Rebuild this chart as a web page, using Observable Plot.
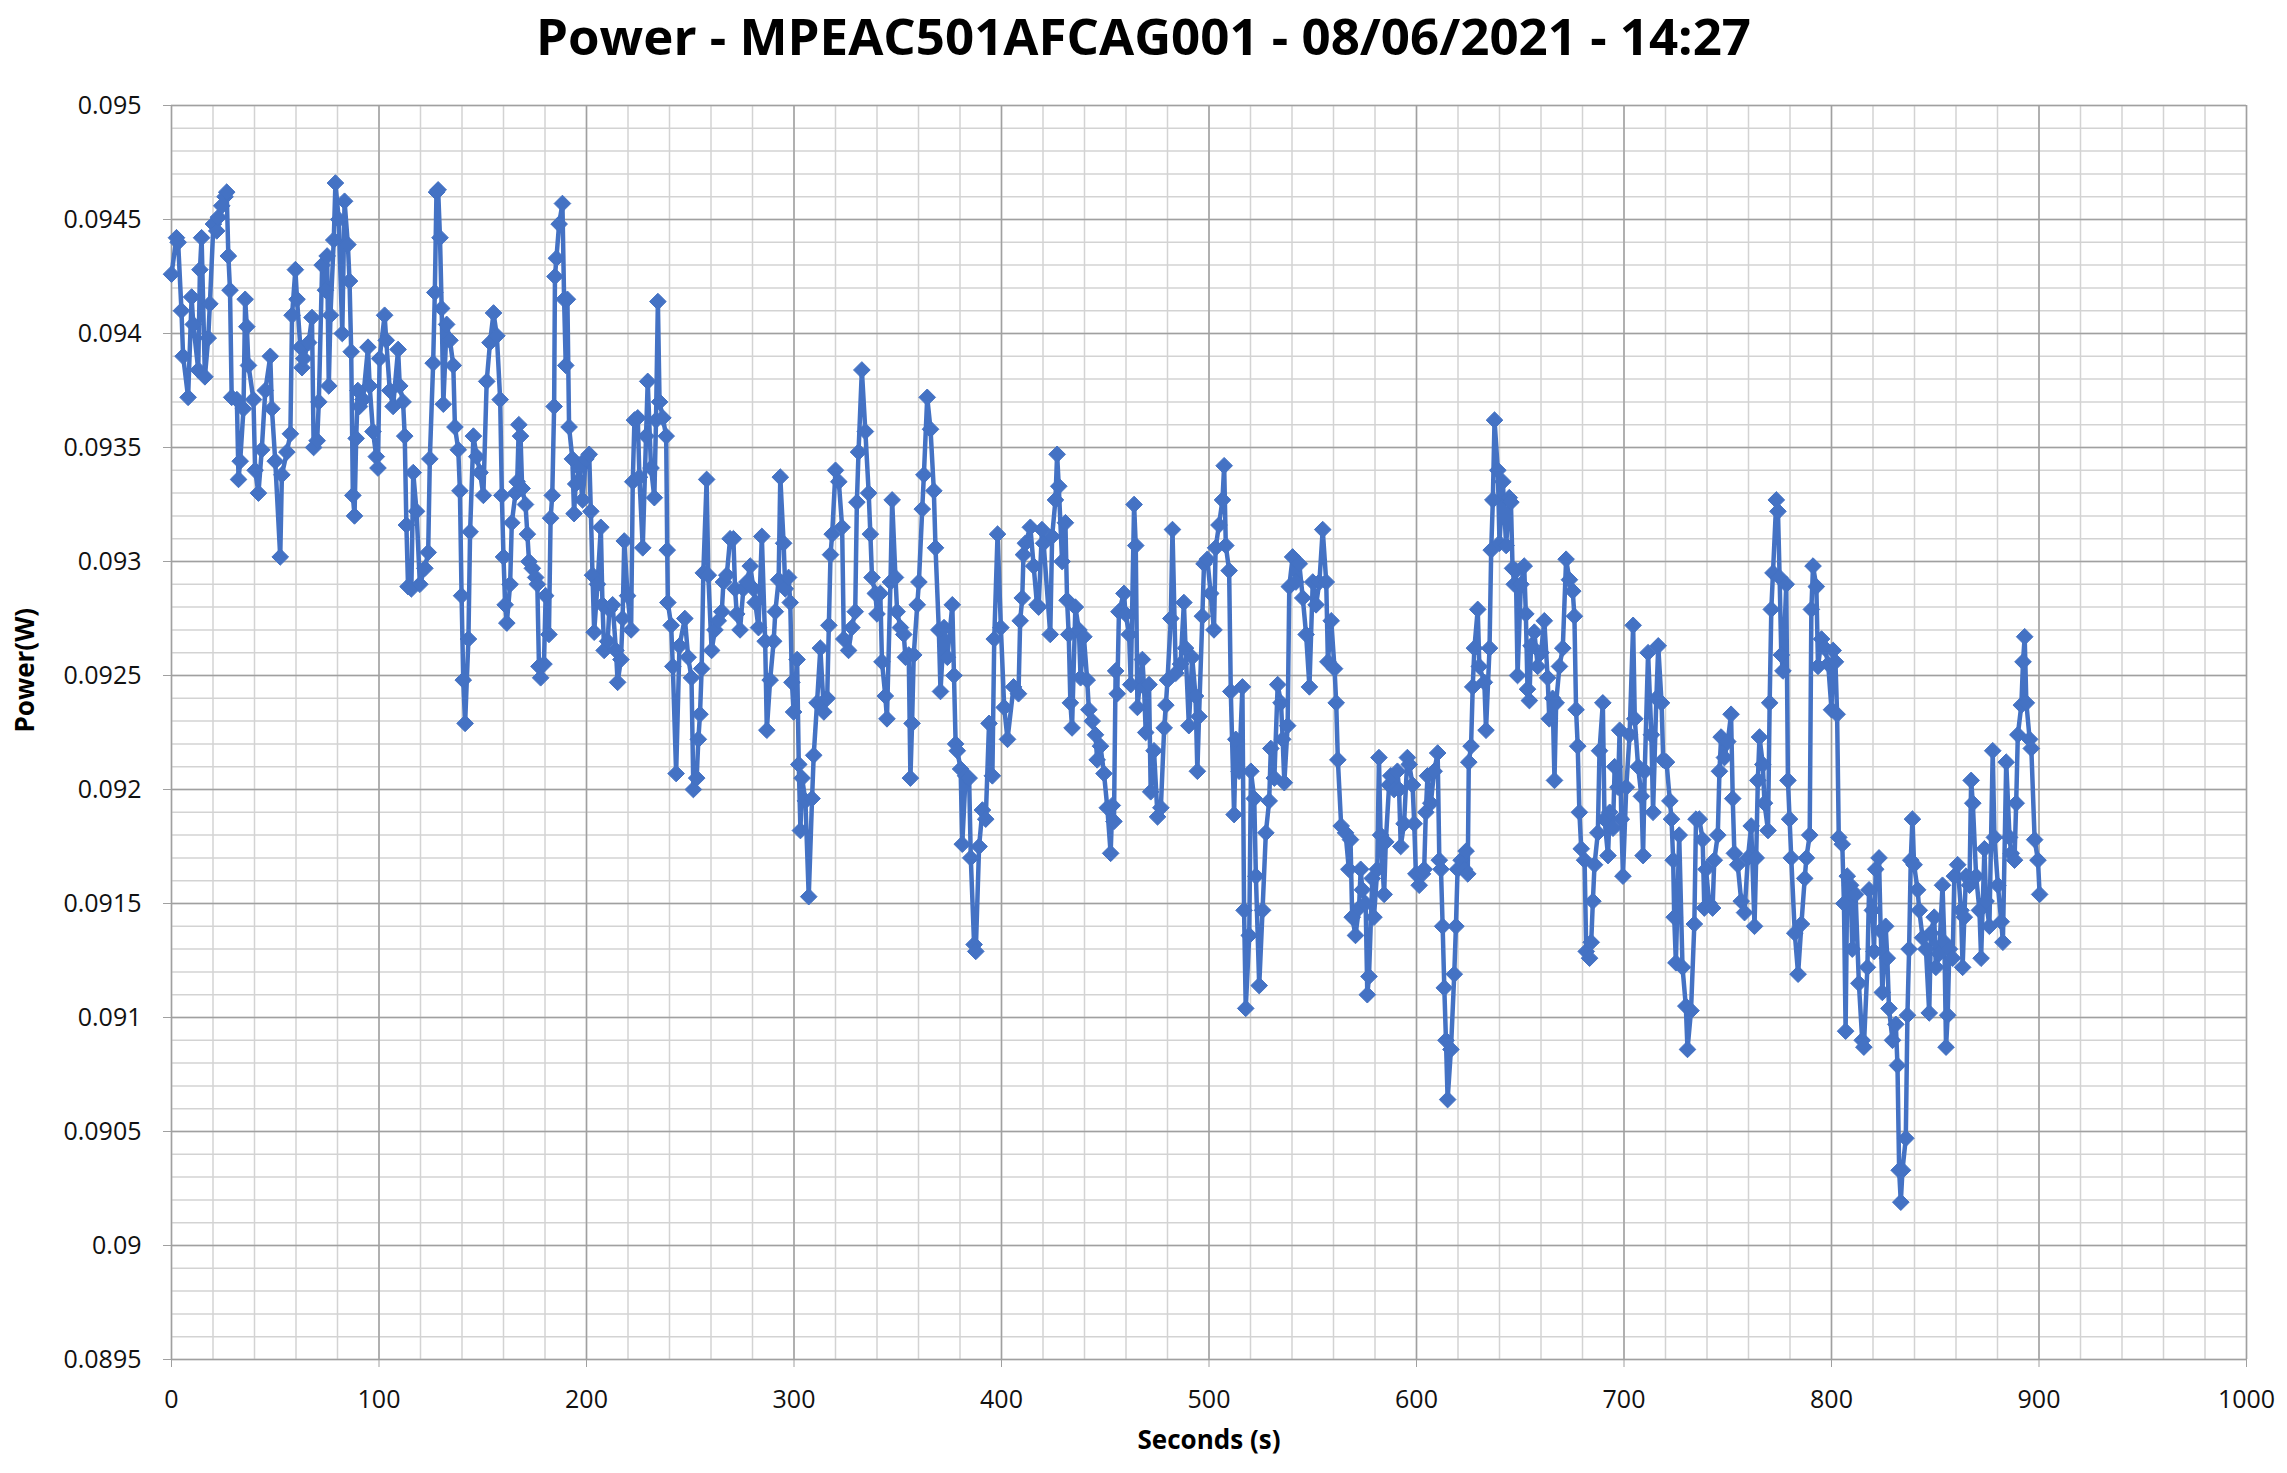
<!DOCTYPE html>
<html><head><meta charset="utf-8">
<script src="https://cdn.jsdelivr.net/npm/d3@7"></script>
<script src="https://cdn.jsdelivr.net/npm/@observablehq/plot@0.6"></script>
<style>
html,body{margin:0;padding:0;background:#fff;}
#wrap{width:2287px;height:1473px;position:relative;overflow:hidden;}
#title{height:62px;line-height:70px;overflow:visible;text-align:center;font-family:"Open Sans",sans-serif;font-weight:700;font-size:51px;color:#000;white-space:nowrap;}
</style></head><body>
<div id="wrap"><div id="title"></div><div id="chart"></div></div>
<script>
const chartTitle = "Power - MPEAC501AFCAG001 - 08/06/2021 - 14:27";
const xLabel = "Seconds (s)";
const yLabel = "Power(W)";
const xTicks = [0, 100, 200, 300, 400, 500, 600, 700, 800, 900, 1000];
const yTicks = [0.0895, 0.09, 0.0905, 0.091, 0.0915, 0.092, 0.0925, 0.093, 0.0935, 0.094, 0.0945, 0.095];

const seconds = [
0,2.4,3.2,4.8,5.6,8,9.7,10.5,12.9,13.7,14.5,16.1,17.7,18.5,20.2,21.8,22.6,24.2,25.8,26.6,27.4,28.2,29,31.5,32.3,33.1,34.7,35.5,36.3,37.1,39.5,40.3,41.9,43.5,45.2,47.6,48.4,50,52.4,53.2,55.6,57.3,58.1,59.7,60.5,62.1,62.9,63.7,66.1,67.7,68.5,70.2,71,72.6,74.2,75,75.8,76.6,78.2,79,80.6,82.3,
83.4,85,85.8,86.6,87.4,88.2,89,89.8,90.6,92.3,94.7,95.5,97.1,98.7,99.5,100.3,102.7,103.5,105.2,106.8,109.2,110,111.6,112.4,113.2,114,115.6,116.5,118.1,119.7,122.1,123.7,124.5,126.1,126.9,127.7,128.5,129.4,130.2,131,132.6,134.2,135.8,136.6,138.2,139,139.8,140.6,141.5,143.1,143.9,145.5,147.1,148.7,150.3,151.9,153.5,155.2,156.8,158.4,159.2,160,160.8,161.6,163.2,164,
165.8,166.6,167.4,168.2,169,170.6,171.5,172.3,173.9,175.5,176.3,177.1,177.9,179.5,180.3,181.9,182.7,183.5,184.4,184.8,185.5,186.8,188.4,189.2,190,190.8,191.6,193.2,194,194.8,196.5,198.1,199.7,201.3,202.1,202.9,203.7,205.3,206.9,207.7,208.5,210.2,211,212.6,214.2,215,216.6,217.4,218.2,219.8,221.5,222.3,223.1,224.7,225.5,227.1,228.7,229.5,231.1,232.7,233.5,234.4,235.2,236.8,238.4,238.9,239.2,240.8,241.6,243.2,244.8,
247.4,249,250.6,251.5,253.1,253.9,254.7,255.5,256.3,257.9,258.7,260.3,261.9,263.5,265.2,266,267.6,269.2,270.8,271.6,272.4,274,275.6,277.3,278.9,280.5,281.3,282.9,284.5,286.1,286.9,288.5,290.2,291,292.6,293.4,295,295.8,297.4,298.2,299,299.8,301.5,302.3,303.1,303.9,305.5,307.1,308.7,309.5,311.1,312.7,314.4,316,316.8,317.6,318.4,320,321.6,323.2,324,
326.3,327.9,329.5,330.3,331.1,332.7,334.4,336,336.8,337.6,339.2,340,341.6,342.4,344,344.8,346.5,347.3,348.9,349.7,351.3,352.9,353.7,355.3,356.1,356.9,357.7,359.4,360.2,361.8,362.6,364.2,365.8,367.4,368.2,369.8,370.6,372.3,373.9,376.3,377.1,377.9,378.7,380.3,381.1,382.7,384.4,385.2,386.8,387.6,389.2,390.8,392.4,394,395.6,396.5,398.1,399.7,401.3,402.9,
405.8,408.2,409,410,410.6,411.5,413.9,415.5,417.1,417.9,419.5,420.3,423.5,424.4,426,426.8,427.6,429.2,430.8,431.6,432.4,433.2,434,435.6,437.3,438.1,439.7,441.3,442.1,443.7,445.3,446.1,447.7,449.4,451,452.6,453.4,454.2,455,455.8,456.6,459,459.8,461.5,462.3,463.9,464.7,465.5,467.9,468.7,469.5,471.1,471.9,473.5,475.2,476.8,478.4,479.2,480,481.6,482.4,484,
486.3,487.9,488.7,490.3,491.9,493.5,494.4,495.2,496.8,497.6,499.2,500.8,502.4,503.2,504.8,506.5,507.3,508.1,509.7,510.5,512.1,512.9,514.5,516.1,516.9,517.7,519.4,520.2,521.8,522.6,524.2,525.8,527.4,529,529.8,531.5,533.1,534.7,535.5,536.3,537.9,538.7,540.3,541.9,543.5,545.2,546.8,548.4,550,551.6,553.2,554.8,556.5,557.3,558.9,560.5,561.3,562.1,563.7,
565.8,567.4,568.2,569,570.6,572.3,573.1,573.9,575.5,576.3,577.1,578.7,579.5,581.1,581.9,582.7,584.4,585.2,586.8,587.6,589.2,590.8,591.6,592.4,594,595.6,596.5,598.1,598.9,599.7,601.3,602.9,603.7,604.5,605.3,606.9,608.5,610.2,611,611.8,612.6,613.4,614.2,615,616.6,618.2,619,619.8,621.5,623.1,623.9,624.7,625.2,626.3,627.1,627.9,629.5,630.3,632.7,633.5,635.2,636,636.8,637.6,639.2,640,641.6,643.2,644.7,645.5,
646.3,647.1,647.9,648.7,650.3,651.9,652.7,653.5,654.4,655.2,656.8,658.4,660,661.6,663.2,664,665.6,666.5,667.3,668.9,670.5,672.1,673.7,675.3,676.1,676.9,677.7,678.5,679.4,681,681.8,683.4,684.2,685,685.8,687.4,688.2,689.8,690.6,692.3,693.1,694.7,695.5,697.1,697.9,698.7,699.5,701.1,702.7,704.4,705.2,706.8,708.4,709.2,710,711.6,713.2,714,715.6,716.5,718.1,718.9,720.5,722.1,722.9,723.7,
724.2,725,726.6,728.2,729.8,730.6,732.3,733.9,734.7,736.3,737.9,738.7,739.5,741.1,742.7,743.5,745.2,746,746.8,748.4,750,751.6,752.4,753.2,754.8,756.5,758.1,759.7,761.3,762.9,763.7,764.5,765.3,766.9,767.7,769.4,770.2,771,771.8,773.4,774.2,775,775.8,776.6,778.2,779,779.8,780.6,782.3,783.9,785.5,787.1,787.9,789.5,790.3,791.1,792.7,793.5,795.2,796.8,798.4,800,
800.8,801.9,802.7,803.5,805.2,806,806.8,807.6,809.2,810,811.6,813.2,814.8,815.6,817.3,818.1,819.7,820.5,821.3,822.9,823.7,824.5,826.1,826.9,827.7,829.4,831,831.8,832.6,833.4,834.2,835.8,836.6,837.4,838.2,839,839.8,841.5,842.3,843.9,845.5,847.1,847.9,849.5,850.3,851.9,853.5,854.4,855.2,856,856.8,858.4,859.2,860.8,862.4,863.2,864,864.8,866.5,867.3,868.1,869.7,871.3,872.1,873.7,874.5,876.1,877.7,878.5,880.2,881.8,882.6,884.2,885.8,886.6,888.2,889,889.8,891.5,892.3,893.1,893.9,895.5,896.3,897.9,899.5,900.3
];

const power = [
0.09426,0.09442,0.0944,0.0941,0.0939,0.09372,0.09416,0.09404,0.09384,0.09428,0.09442,0.09381,0.09398,0.09413,0.09448,0.09445,0.09451,0.09456,0.0946,0.09462,0.09434,0.09419,0.09372,0.09371,0.09336,0.09344,0.09367,0.09415,0.09403,0.09386,0.09371,0.0934,0.0933,0.09349,0.09375,0.0939,0.09367,0.09344,0.09302,0.09338,0.09348,0.09356,0.09408,0.09428,0.09415,0.09394,0.09385,0.09389,0.09396,0.09407,0.0935,0.09353,0.0937,0.0943,0.09419,0.09434,0.09377,0.09408,0.09441,0.09466,0.0945,0.094,
0.09458,0.09439,0.09423,0.09392,0.09329,0.0932,0.09354,0.09375,0.09368,0.09371,0.09394,0.09377,0.09357,0.09346,0.09341,0.09389,0.09408,0.09397,0.09375,0.09368,0.09393,0.09377,0.0937,0.09355,0.09316,0.09289,0.09288,0.09339,0.09322,0.0929,0.09297,0.09304,0.09345,0.09387,0.09418,0.09462,0.09463,0.09442,0.09411,0.09369,0.09404,0.09397,0.09386,0.09359,0.09349,0.09331,0.09285,0.09248,0.09229,0.09266,0.09313,0.09355,0.09346,0.09339,0.09329,0.09379,0.09396,0.09409,0.09399,0.09371,0.09329,0.09302,0.09281,0.09273,0.0929,0.09317,
0.0933,0.09335,0.0936,0.09355,0.09332,0.09325,0.09312,0.093,0.09297,0.09293,0.0929,0.09254,0.09249,0.09255,0.09285,0.09268,0.09319,0.09329,0.09368,0.09425,0.09433,0.09448,0.09457,0.09415,0.09386,0.09415,0.09359,0.09345,0.09321,0.09334,0.09341,0.09327,0.09345,0.09347,0.09322,0.09294,0.09269,0.0929,0.09315,0.09281,0.09261,0.09265,0.09279,0.09281,0.09261,0.09247,0.09257,0.09275,0.09309,0.09285,0.0927,0.09335,0.09362,0.09363,0.09337,0.09306,0.09355,0.09379,0.09341,0.09328,0.09362,0.09414,0.0937,0.09363,0.09355,0.09305,0.09282,0.09272,0.09254,0.09207,0.09263,
0.09275,0.09258,0.09249,0.092,0.09205,0.09222,0.09233,0.09253,0.09295,0.09336,0.09294,0.09261,0.0927,0.09274,0.09278,0.09291,0.09294,0.0931,0.0931,0.09288,0.09277,0.0927,0.09288,0.09291,0.09298,0.09288,0.09282,0.09271,0.09311,0.09265,0.09226,0.09248,0.09265,0.09278,0.09292,0.09337,0.09308,0.09288,0.09293,0.09282,0.09247,0.09234,0.09257,0.09211,0.09182,0.09205,0.09195,0.09153,0.09196,0.09215,0.09238,0.09262,0.09234,0.0924,0.09272,0.09303,0.09312,0.0934,0.09335,0.09315,0.09266,
0.09261,0.09271,0.09278,0.09326,0.09348,0.09384,0.09357,0.0933,0.09312,0.09293,0.09286,0.09277,0.09286,0.09256,0.09241,0.09231,0.09291,0.09327,0.09293,0.09278,0.09271,0.09268,0.09258,0.09259,0.09205,0.09229,0.09259,0.09281,0.09291,0.09323,0.09338,0.09372,0.09358,0.09331,0.09306,0.0927,0.09243,0.09271,0.09258,0.09281,0.0925,0.0922,0.09217,0.09209,0.09176,0.09206,0.09205,0.0917,0.09132,0.09129,0.09175,0.09191,0.09187,0.09229,0.09206,0.09266,0.09312,0.09271,0.09236,0.09222,
0.09245,0.09242,0.09274,0.09284,0.09303,0.09308,0.09315,0.09298,0.09281,0.0928,0.09314,0.09308,0.09268,0.09311,0.09327,0.09347,0.09333,0.093,0.09317,0.09283,0.09268,0.09238,0.09227,0.0928,0.0927,0.09249,0.09267,0.09248,0.09235,0.0923,0.09224,0.09213,0.09219,0.09207,0.09192,0.09172,0.09193,0.09186,0.09252,0.09242,0.09278,0.09286,0.09277,0.09268,0.09246,0.09325,0.09307,0.09236,0.09257,0.09245,0.09225,0.09246,0.09199,0.09217,0.09188,0.09192,0.09227,0.09237,0.09248,0.09275,0.09314,0.09251,
0.09255,0.09282,0.09262,0.09228,0.09258,0.09241,0.09208,0.09232,0.09276,0.09299,0.09301,0.09286,0.0927,0.09306,0.09316,0.09327,0.09342,0.09307,0.09296,0.09243,0.09189,0.09222,0.09208,0.09245,0.09147,0.09104,0.09136,0.09208,0.09196,0.09162,0.09114,0.09147,0.09181,0.09195,0.09218,0.09205,0.09246,0.09238,0.09222,0.09203,0.09228,0.09289,0.09302,0.09291,0.09299,0.09284,0.09268,0.09245,0.09291,0.09281,0.09291,0.09314,0.09291,0.09256,0.09274,0.09253,0.09238,0.09213,0.09184,
0.09181,0.09165,0.09178,0.09144,0.09136,0.09148,0.09165,0.09156,0.0915,0.0911,0.09118,0.09161,0.09144,0.09165,0.09214,0.0918,0.09154,0.09177,0.09202,0.09206,0.092,0.09208,0.092,0.09175,0.09185,0.09214,0.09211,0.09202,0.09185,0.09163,0.09158,0.09163,0.09165,0.0919,0.09206,0.09194,0.09208,0.09216,0.09169,0.09165,0.0914,0.09113,0.0909,0.09064,0.09086,0.09119,0.0914,0.09165,0.09169,0.09165,0.09173,0.09163,0.09212,0.09219,0.09245,0.09262,0.09279,0.09254,0.09247,0.09226,0.09262,0.09305,0.09327,0.09362,0.0934,0.09308,0.09335,0.09307,0.09328,0.09326,
0.09297,0.0929,0.09296,0.0925,0.0929,0.09298,0.09277,0.09244,0.09239,0.09263,0.09269,0.09254,0.0926,0.09274,0.09249,0.09231,0.0924,0.09204,0.09238,0.09254,0.09262,0.09301,0.09292,0.09287,0.09276,0.09235,0.09219,0.0919,0.09174,0.09169,0.09129,0.09126,0.09133,0.09151,0.09167,0.09181,0.09217,0.09238,0.09187,0.09171,0.0919,0.09183,0.0921,0.09201,0.09226,0.09187,0.09162,0.09201,0.09224,0.09272,0.09231,0.0921,0.09197,0.09171,0.09208,0.0926,0.09224,0.0919,0.0924,0.09263,0.09238,0.09213,0.09212,0.09195,0.09187,0.09169,
0.09144,0.09124,0.0918,0.09122,0.09105,0.09086,0.09103,0.09141,0.09187,0.09187,0.09178,0.09148,0.09165,0.0915,0.09148,0.09169,0.0918,0.09208,0.09223,0.09214,0.09221,0.09233,0.09196,0.09172,0.09167,0.09151,0.09146,0.0917,0.09184,0.0914,0.0917,0.09204,0.09223,0.09211,0.09194,0.09182,0.09238,0.09279,0.09295,0.09327,0.09322,0.09293,0.09259,0.09252,0.0929,0.09204,0.09187,0.0917,0.09137,0.09119,0.09141,0.09161,0.0917,0.0918,0.09279,0.09298,0.09289,0.09254,0.09266,0.09262,0.09255,0.09235,
0.09261,0.09256,0.09233,0.09179,0.09176,0.0915,0.09094,0.09162,0.09158,0.0913,0.09154,0.09115,0.0909,0.09087,0.09122,0.09156,0.09147,0.09129,0.09165,0.0917,0.09138,0.09111,0.0914,0.09126,0.09104,0.0909,0.09097,0.09079,0.09033,0.09019,0.09033,0.09047,0.09101,0.0913,0.09169,0.09187,0.09167,0.09156,0.09147,0.09135,0.0913,0.09102,0.09137,0.09144,0.09122,0.09128,0.09158,0.09133,0.09087,0.09101,0.0913,0.09126,0.09162,0.09167,0.09147,0.09122,0.09144,0.09162,0.09158,0.09204,0.09194,0.09162,0.09147,0.09126,0.09174,0.09151,0.0914,0.09217,0.09179,0.09158,0.09142,0.09133,0.09212,0.09179,0.09172,0.09169,0.09194,0.09224,0.09237,0.09256,0.09267,0.09238,0.09222,0.09218,0.09178,0.09169,0.09154
];

document.getElementById("title").textContent = chartTitle;
const data = seconds.map((t, i) => ({t, p: power[i]}));
const xMinor = d3.range(0, 1000.001, 20);
const yMinor = d3.range(0, 56).map(i => +(0.0895 + i * 0.0001).toFixed(5));
const blue = "#4472C4";

const chart = Plot.plot({
  width: 2287,
  height: 1411,
  marginTop: 43,
  marginBottom: 114,
  marginLeft: 171,
  marginRight: 41,
  style: {fontFamily: "'Open Sans', sans-serif", fontSize: "25px", background: "#fff", color: "#000"},
  x: {domain: [0, 1000]},
  y: {domain: [0.0895, 0.095]},
  marks: [
    Plot.ruleX(xMinor, {stroke: "#d3d3d3", strokeWidth: 1.5}),
    Plot.ruleY(yMinor, {stroke: "#d3d3d3", strokeWidth: 1.5}),
    Plot.ruleX(xTicks, {stroke: "#a0a0a0", strokeWidth: 1.5}),
    Plot.ruleY(yTicks, {stroke: "#a0a0a0", strokeWidth: 1.5}),
    Plot.axisX({ticks: xTicks, tickSize: 8, tickPadding: 23, stroke: "#a0a0a0", fill: "#111", label: null, fontSize: 25,
      tickFormat: d => String(d)}),
    Plot.axisY({ticks: yTicks, tickSize: 8, tickPadding: 22, stroke: "#a0a0a0", fill: "#111", label: null, fontSize: 25,
      tickFormat: d => String(+d.toFixed(4))}),
    Plot.line(data, {x: "t", y: "p", stroke: blue, strokeWidth: 4.5, strokeLinejoin: "round"}),
    Plot.dot(data, {x: "t", y: "p", symbol: "diamond2", r: 7.5, fill: blue, stroke: blue, strokeWidth: 1}),
    Plot.text([xLabel], {frameAnchor: "bottom", dy: 89, fontWeight: 700, fontSize: 26, fill: "#000"}),
    Plot.text([yLabel], {frameAnchor: "left", dx: -146, rotate: -90, fontWeight: 700, fontSize: 26, fill: "#000"})
  ]
});
document.getElementById("chart").appendChild(chart);
</script>
</body></html>
